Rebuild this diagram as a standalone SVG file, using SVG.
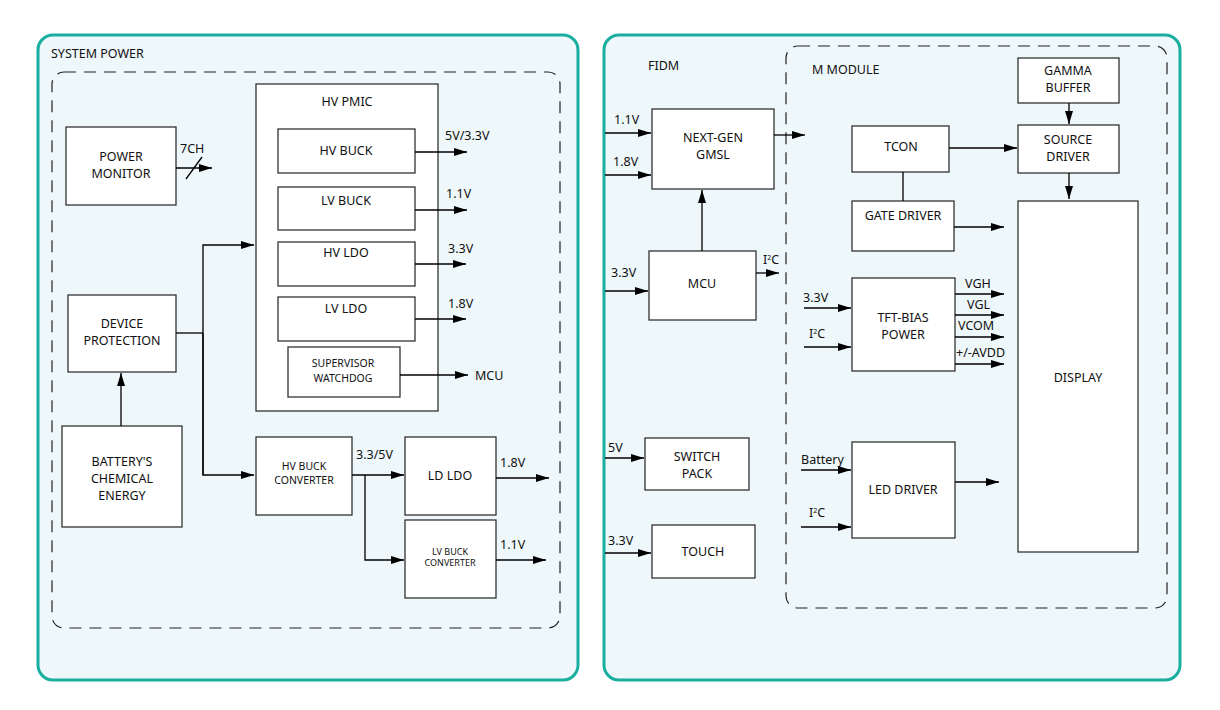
<svg xmlns="http://www.w3.org/2000/svg" width="1220" height="710" viewBox="0 0 1220 710">
<defs>
<marker id="ah" markerWidth="13" markerHeight="8" refX="13" refY="4" orient="auto" markerUnits="userSpaceOnUse"><path d="M0,0 L13,4 L0,8 z" fill="#000"/></marker>
<style>
.panel{fill:#eef7fa;stroke:#1aaea0;stroke-width:3}
.dash{fill:none;stroke:#222;stroke-width:1.2;stroke-dasharray:12 8}
.box{fill:#fff;stroke:#333;stroke-width:1.3}
text{font-family:"Noto Sans","Open Sans",sans-serif;font-size:12.5px;fill:#111}
.c{text-anchor:middle}
.s{font-size:10.5px}
.w{fill:none;stroke:#000;stroke-width:1.3}
.a{fill:none;stroke:#000;stroke-width:1.3;marker-end:url(#ah)}
</style>
</defs>
<rect width="1220" height="710" fill="#fff"/>
<rect class="panel" x="38" y="35" width="540" height="645" rx="15"/>
<rect class="panel" x="604" y="35" width="576" height="645" rx="15"/>
<rect class="dash" x="52" y="72" width="508" height="556" rx="12"/>
<rect class="dash" x="786" y="46" width="381" height="562" rx="12"/>
<text x="51" y="58">SYSTEM POWER</text>
<text x="648" y="70">FIDM</text>
<text x="812" y="74">M MODULE</text>

<g id="power-monitor"><rect class="box" x="66" y="127" width="110" height="78"/><text class="c" x="121" y="161">POWER</text><text class="c" x="121" y="178">MONITOR</text></g>
<g id="hv-pmic"><rect class="box" x="256" y="84" width="182" height="327"/><text class="c" x="347" y="106">HV PMIC</text></g>
<g id="hv-buck"><rect class="box" x="278" y="129" width="137" height="44"/><text class="c" x="346" y="155">HV BUCK</text></g>
<g id="lv-buck"><rect class="box" x="278" y="187" width="137" height="43"/><text class="c" x="346" y="205">LV BUCK</text></g>
<g id="hv-ldo"><rect class="box" x="278" y="242" width="137" height="44"/><text class="c" x="346" y="257">HV LDO</text></g>
<g id="lv-ldo"><rect class="box" x="278" y="297" width="137" height="44"/><text class="c" x="346" y="313">LV LDO</text></g>
<g id="supervisor"><rect class="box" x="288" y="347" width="112" height="50"/><text class="c s" x="343" y="367">SUPERVISOR</text><text class="c s" x="343" y="382">WATCHDOG</text></g>
<g id="device-protection"><rect class="box" x="68" y="295" width="108" height="77"/><text class="c" x="122" y="328">DEVICE</text><text class="c" x="122" y="345">PROTECTION</text></g>
<g id="battery"><rect class="box" x="62" y="426" width="120" height="101"/><text class="c" x="122" y="466">BATTERY'S</text><text class="c" x="122" y="483">CHEMICAL</text><text class="c" x="122" y="500">ENERGY</text></g>
<g id="hv-buck-conv"><rect class="box" x="256" y="437" width="96" height="78"/><text class="c s" x="304" y="470">HV BUCK</text><text class="c s" x="304" y="484">CONVERTER</text></g>
<g id="ld-ldo"><rect class="box" x="405" y="437" width="91" height="78"/><text class="c" x="450" y="480">LD LDO</text></g>
<g id="lv-buck-conv"><rect class="box" x="405" y="520" width="91" height="78"/><text class="c" style="font-size:9px" x="450" y="555">LV BUCK</text><text class="c" style="font-size:9px" x="450" y="566">CONVERTER</text></g>

<g id="gmsl"><rect class="box" x="652" y="109" width="122" height="80"/><text class="c" x="713" y="142">NEXT-GEN</text><text class="c" x="713" y="159">GMSL</text></g>
<g id="mcu"><rect class="box" x="649" y="251" width="107" height="69"/><text class="c" x="702" y="288">MCU</text></g>
<g id="switch-pack"><rect class="box" x="645" y="438" width="104" height="52"/><text class="c" x="697" y="461">SWITCH</text><text class="c" x="697" y="478">PACK</text></g>
<g id="touch"><rect class="box" x="652" y="525" width="103" height="53"/><text class="c" x="703" y="556">TOUCH</text></g>
<g id="tcon"><rect class="box" x="852" y="126" width="97" height="46"/><text class="c" x="901" y="151">TCON</text></g>
<g id="gamma"><rect class="box" x="1018" y="58" width="101" height="45"/><text class="c" x="1068" y="75">GAMMA</text><text class="c" x="1068" y="92">BUFFER</text></g>
<g id="source-driver"><rect class="box" x="1018" y="125" width="101" height="48"/><text class="c" x="1068" y="144">SOURCE</text><text class="c" x="1068" y="161">DRIVER</text></g>
<g id="gate-driver"><rect class="box" x="852" y="201" width="102" height="50"/><text class="c" x="903" y="220">GATE DRIVER</text></g>
<g id="display"><rect class="box" x="1018" y="201" width="120" height="351"/><text class="c" x="1078" y="382">DISPLAY</text></g>
<g id="tft-bias"><rect class="box" x="852" y="278" width="103" height="93"/><text class="c" x="903" y="322">TFT-BIAS</text><text class="c" x="903" y="339">POWER</text></g>
<g id="led-driver"><rect class="box" x="852" y="442" width="103" height="96"/><text class="c" x="903" y="494">LED DRIVER</text></g>

<g id="connectors">
<line class="a" x1="176" y1="168" x2="212" y2="168"/><line class="w" x1="186" y1="179" x2="202" y2="157"/>
<text x="180" y="153">7CH</text>
<line class="a" x1="415" y1="152" x2="467" y2="152"/><text x="445" y="140">5V/3.3V</text>
<line class="a" x1="415" y1="210" x2="467" y2="210"/><text x="446" y="198">1.1V</text>
<line class="a" x1="415" y1="264" x2="466" y2="264"/><text x="448" y="253">3.3V</text>
<line class="a" x1="415" y1="319" x2="466" y2="319"/><text x="448" y="308">1.8V</text>
<line class="a" x1="400" y1="375" x2="468" y2="375"/><text x="475" y="380">MCU</text>
<line class="a" x1="121" y1="426" x2="121" y2="373"/>
<polyline class="w" points="176,333 203,333"/>
<polyline class="a" points="203,475 203,245 254,245"/>
<polyline class="a" points="203,333 203,475 254,475"/>
<line class="a" x1="352" y1="475" x2="404" y2="475"/><text x="356" y="459">3.3/5V</text>
<polyline class="a" points="365,475 365,560 404,560"/>
<line class="a" x1="496" y1="478" x2="549" y2="478"/><text x="500" y="467">1.8V</text>
<line class="a" x1="496" y1="560" x2="546" y2="560"/><text x="500" y="549">1.1V</text>

<line class="a" x1="605" y1="133" x2="651" y2="133"/><text x="614" y="124">1.1V</text>
<line class="a" x1="605" y1="175" x2="651" y2="175"/><text x="613" y="166">1.8V</text>
<line class="a" x1="774" y1="135" x2="805" y2="135"/>
<line class="a" x1="702" y1="251" x2="702" y2="190"/>
<line class="a" x1="605" y1="291" x2="648" y2="291"/><text x="611" y="277">3.3V</text>
<line class="a" x1="756" y1="273" x2="779" y2="273"/><text x="763" y="264">I<tspan font-size="7" dy="-4">2</tspan><tspan dy="4">C</tspan></text>
<line class="a" x1="605" y1="458" x2="644" y2="458"/><text x="608" y="452">5V</text>
<line class="a" x1="605" y1="553" x2="651" y2="553"/><text x="608" y="545">3.3V</text>
<line class="a" x1="949" y1="148" x2="1017" y2="148"/>
<line class="a" x1="1069" y1="103" x2="1069" y2="124"/>
<line class="a" x1="1069" y1="173" x2="1069" y2="199"/>
<line class="w" x1="903" y1="172" x2="903" y2="201"/>
<line class="a" x1="954" y1="227" x2="1004" y2="227"/>
<line class="a" x1="804" y1="308" x2="851" y2="308"/><text x="803" y="302">3.3V</text>
<line class="a" x1="804" y1="347" x2="851" y2="347"/><text x="809" y="338">I<tspan font-size="7" dy="-4">2</tspan><tspan dy="4">C</tspan></text>
<line class="a" x1="955" y1="294" x2="1004" y2="294"/><text x="965" y="288">VGH</text>
<line class="a" x1="955" y1="315" x2="1004" y2="315"/><text x="967" y="309">VGL</text>
<line class="a" x1="955" y1="337" x2="1004" y2="337"/><text x="958" y="330">VCOM</text>
<line class="a" x1="955" y1="364" x2="1004" y2="364"/><text x="956" y="357">+/-AVDD</text>
<line class="a" x1="801" y1="470" x2="851" y2="470"/><text x="801" y="464">Battery</text>
<line class="a" x1="801" y1="527" x2="851" y2="527"/><text x="809" y="517">I<tspan font-size="7" dy="-4">2</tspan><tspan dy="4">C</tspan></text>
<line class="a" x1="955" y1="482" x2="999" y2="482"/>
</g>
</svg>
